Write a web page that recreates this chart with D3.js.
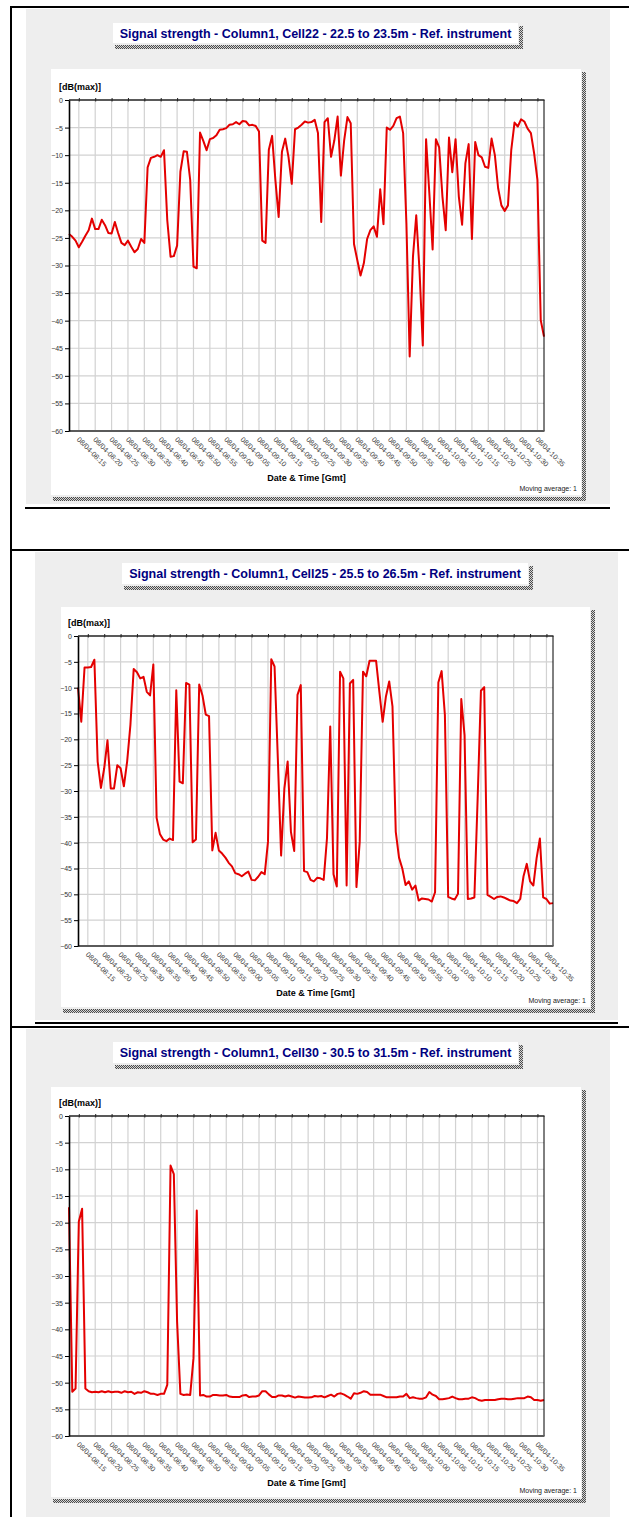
<!DOCTYPE html>
<html>
<head>
<meta charset="utf-8">
<script src="https://cdn.jsdelivr.net/npm/d3@7"></script>
<style>
  body { margin: 0; background: #fff; }
  svg { display: block; font-family: "Liberation Sans", Arial, sans-serif; }
</style>
</head>
<body>
<svg id="page" width="629" height="1517"></svg>
<script>
// ---- data (one sample per minute, 08:12 .. 10:37) ----
const startTime = new Date(2008, 3, 8, 8, 12);
const endTime = new Date(2008, 3, 8, 10, 37);
const yTicks = [0, -5, -10, -15, -20, -25, -30, -35, -40, -45, -50, -55, -60];

const titles = [
  'Signal strength - Column1, Cell22 - 22.5 to 23.5m - Ref. instrument',
  'Signal strength - Column1, Cell25 - 25.5 to 26.5m - Ref. instrument',
  'Signal strength - Column1, Cell30 - 30.5 to 31.5m - Ref. instrument'
];
const yLabel = '[dB(max)]';
const xLabel = 'Date & Time [Gmt]';
const note = 'Moving average: 1';

const cell22 = [
  -24.3, -24.8, -25.5, -26.7, -25.7, -24.6, -23.6, -21.5, -23.4, -23.4,
  -21.7, -22.7, -24.1, -24.2, -22.1, -24.1, -25.9, -26.3, -25.5, -26.6,
  -27.6, -27.0, -25.2, -25.9, -12.2, -10.5, -10.3, -10.0, -10.3, -9.1,
  -21.8, -28.4, -28.3, -26.4, -13.0, -9.3, -9.4, -14.5, -30.2, -30.5,
  -5.9, -7.4, -9.1, -7.1, -6.9, -6.4, -5.4, -5.3, -5.1, -4.5,
  -4.4, -4.0, -4.4, -3.8, -3.9, -4.6, -4.5, -4.7, -5.7, -25.5,
  -25.9, -9.0, -6.5, -14.5, -21.2, -9.4, -7.0, -10.3, -15.2, -5.3,
  -5.0, -4.5, -3.9, -4.1, -4.0, -3.6, -6.0, -22.1, -4.0, -3.3,
  -10.3, -7.3, -3.0, -13.7, -7.3, -3.1, -4.2, -26.1, -29.0, -31.8,
  -29.6, -25.2, -23.6, -22.9, -24.8, -16.2, -22.5, -5.0, -5.4, -4.7,
  -3.3, -3.0, -6.0, -22.4, -46.5, -28.4, -20.9, -30.9, -44.5, -7.1,
  -16.9, -27.1, -7.1, -8.6, -17.5, -23.6, -6.8, -13.1, -7.1, -17.5,
  -22.6, -11.5, -8.0, -25.2, -7.6, -10.0, -10.4, -12.1, -12.3, -7.0,
  -10.0, -16.0, -19.1, -20.1, -19.1, -9.1, -4.1, -4.8, -3.5, -3.9,
  -5.2, -6.0, -9.7, -14.5, -39.9, -42.9
];

const cell25 = [
  -10.0, -16.6, -6.1, -6.1, -6.0, -4.6, -24.3, -29.4, -25.6, -20.2,
  -29.5, -29.5, -25.0, -25.6, -29.1, -24.3, -17.2, -6.4, -7.0, -8.2,
  -7.9, -10.8, -11.5, -5.5, -35.2, -38.3, -39.4, -39.7, -39.2, -39.5,
  -10.5, -28.2, -28.5, -9.1, -9.4, -39.9, -39.4, -9.4, -11.5, -15.2,
  -15.5, -41.5, -38.1, -41.5, -42.1, -42.9, -43.9, -44.6, -45.9, -46.1,
  -46.5, -46.0, -45.6, -47.2, -47.3, -46.6, -45.7, -46.1, -39.8, -4.5,
  -5.9, -23.7, -42.5, -29.5, -24.3, -37.9, -41.6, -11.4, -9.5, -45.5,
  -45.7, -47.2, -47.5, -46.8, -46.9, -47.2, -39.2, -17.5, -46.1, -48.5,
  -6.9, -8.2, -48.3, -9.2, -8.5, -48.6, -39.8, -6.9, -7.8, -4.8,
  -4.8, -4.8, -10.8, -16.6, -11.7, -8.8, -13.6, -37.9, -42.9, -45.0,
  -48.2, -47.5, -49.1, -48.3, -51.2, -50.8, -50.9, -51.0, -51.4, -49.6,
  -9.0, -6.8, -15.3, -50.5, -50.8, -51.0, -49.9, -12.2, -19.2, -50.9,
  -50.8, -50.6, -31.4, -10.6, -9.9, -50.1, -50.5, -50.9, -50.5, -50.4,
  -50.6, -50.9, -51.2, -51.3, -51.7, -50.9, -46.5, -44.1, -47.5, -48.3,
  -43.0, -39.2, -50.6, -50.9, -51.8, -51.7
];

const cell30 = [
  -17.1, -51.7, -51.1, -19.8, -17.4, -51.1, -51.6, -51.8, -51.7, -51.8,
  -51.6, -51.8, -51.6, -51.8, -51.7, -51.7, -51.9, -51.6, -51.8, -51.7,
  -52.1, -51.8, -51.9, -51.6, -51.8, -52.1, -52.1, -52.3, -52.1, -52.1,
  -50.4, -9.3, -10.9, -38.6, -52.1, -52.3, -52.2, -52.3, -45.4, -17.7,
  -52.4, -52.3, -52.6, -52.6, -52.3, -52.3, -52.4, -52.4, -52.3, -52.6,
  -52.7, -52.7, -52.7, -52.4, -52.3, -52.7, -52.6, -52.6, -52.4, -51.6,
  -51.6, -52.2, -52.7, -52.7, -52.4, -52.4, -52.6, -52.4, -52.6, -52.8,
  -52.6, -52.7, -52.8, -52.8, -52.75, -52.5, -52.6, -52.5, -52.75, -52.5,
  -52.25, -52.6, -52.1, -52.0, -52.25, -52.6, -53.0, -52.0, -52.1, -51.9,
  -51.6, -51.75, -52.25, -52.25, -52.25, -52.25, -52.5, -52.75, -52.75, -52.75,
  -52.75, -52.6, -52.6, -52.1, -52.9, -52.75, -52.9, -53.0, -53.0, -52.75,
  -51.75, -52.25, -52.5, -53.1, -53.1, -53.0, -52.9, -52.6, -52.9, -53.1,
  -53.1, -53.0, -53.0, -52.75, -52.9, -53.25, -53.4, -53.25, -53.25, -53.25,
  -53.25, -53.1, -53.0, -53.0, -53.1, -53.1, -53.0, -52.9, -52.9, -52.9,
  -52.6, -52.75, -53.25, -53.25, -53.4, -53.25
];

const series = [cell22, cell25, cell30];

// ---- page layout (pixel boxes of each report block) ----
const layouts = [
  { gray: [26, 9, 584, 495], title: [113, 23, 405, 20], chart: [51, 69, 530, 426],
    plot: { l: 69, t: 100, r: 544, b: 431 }, sep: [25, 610, 508] },
  { gray: [35, 552, 583, 468], title: [122, 563, 406, 21], chart: [61, 607, 529, 400],
    plot: { l: 78, t: 636, r: 553, b: 946 }, sep: [35, 618, 1023] },
  { gray: [26, 1029, 584, 488], title: [113, 1042, 405, 21], chart: [51, 1087, 530, 410],
    plot: { l: 69, t: 1116, r: 544, b: 1436 }, sep: null }
];

const svg = d3.select('#page');
const defs = svg.append('defs');

// dithered shadow like the old report generator
const pat = defs.append('pattern')
  .attr('id', 'dither')
  .attr('width', 2).attr('height', 2)
  .attr('patternUnits', 'userSpaceOnUse');
pat.append('rect').attr('width', 2).attr('height', 2).attr('fill', '#d6d6d6');
pat.append('rect').attr('width', 1).attr('height', 1).attr('fill', '#4a4a4a');
pat.append('rect').attr('x', 1).attr('y', 1).attr('width', 1).attr('height', 1).attr('fill', '#4a4a4a');

const pageLine = (x1, y1, x2, y2, w) => svg.append('line')
  .attr('x1', x1).attr('y1', y1).attr('x2', x2).attr('y2', y2)
  .attr('stroke', '#000').attr('stroke-width', w);

function shadow(g, x0, y0, w, h) {
  // bottom + right strips
  g.append('rect').attr('x', x0 + 2).attr('y', y0 + h + 2).attr('width', w + 3).attr('height', 4)
    .attr('fill', 'url(#dither)');
  g.append('rect').attr('x', x0 + w + 1).attr('y', y0 + 3).attr('width', 4).attr('height', h + 3)
    .attr('fill', 'url(#dither)');
}

function drawPanel(L, values, title) {
  const g = svg.append('g');
  const p = L.plot;

  g.append('rect').attr('x', L.gray[0]).attr('y', L.gray[1])
    .attr('width', L.gray[2]).attr('height', L.gray[3]).attr('fill', '#eeeeee');

  // title box
  const [tx, ty, tw, th] = L.title;
  shadow(g, tx, ty, tw, th);
  g.append('rect').attr('x', tx).attr('y', ty).attr('width', tw).attr('height', th).attr('fill', '#fff');
  g.append('text')
    .attr('x', tx + tw / 2).attr('y', ty + th / 2 + 4.5)
    .attr('text-anchor', 'middle')
    .attr('font-size', 12.5).attr('font-weight', 'bold')
    .attr('fill', '#00007f')
    .text(title);

  // chart card
  const [cx, cy, cw, ch] = L.chart;
  shadow(g, cx, cy, cw, ch);
  g.append('rect').attr('x', cx).attr('y', cy).attr('width', cw).attr('height', ch).attr('fill', '#fff');

  const x = d3.scaleTime().domain([startTime, endTime]).range([p.l, p.r]);
  const y = d3.scaleLinear().domain([-60, 0]).range([p.b, p.t]);
  const xTicks = d3.timeMinute.every(5).range(new Date(2008, 3, 8, 8, 15), new Date(2008, 3, 8, 10, 36));

  // gridlines
  g.append('g').selectAll('line.h')
    .data(yTicks.filter(d => d > -60 && d < 0))
    .join('line')
    .attr('x1', p.l).attr('x2', p.r)
    .attr('y1', d => y(d)).attr('y2', d => y(d))
    .attr('stroke', '#d2d2d2').attr('stroke-width', 1.2);
  g.append('g').selectAll('line.v')
    .data(xTicks)
    .join('line')
    .attr('x1', d => x(d)).attr('x2', d => x(d))
    .attr('y1', p.t).attr('y2', p.b)
    .attr('stroke', '#d2d2d2').attr('stroke-width', 1.2);

  // signal line
  const pts = values.map((v, i) => [d3.timeMinute.offset(startTime, i), v]);
  g.append('path')
    .datum(pts)
    .attr('fill', 'none')
    .attr('stroke', '#e40000')
    .attr('stroke-width', 2)
    .attr('stroke-linejoin', 'round')
    .attr('d', d3.line().x(d => x(d[0])).y(d => y(d[1])));

  // frame: right thin black, bottom grey, top + left black
  g.append('line').attr('x1', p.r).attr('x2', p.r).attr('y1', p.t).attr('y2', p.b)
    .attr('stroke', '#000').attr('stroke-width', 1);
  g.append('line').attr('x1', p.l).attr('x2', p.r + 0.5).attr('y1', p.b).attr('y2', p.b)
    .attr('stroke', '#5a5a5a').attr('stroke-width', 2);
  g.append('line').attr('x1', p.l).attr('x2', p.r + 0.5).attr('y1', p.t).attr('y2', p.t)
    .attr('stroke', '#222').attr('stroke-width', 1.5);

  // top tick marks
  g.append('g')
    .attr('transform', `translate(0,${p.t + 1.5})`)
    .call(d3.axisTop(x).tickValues(xTicks).tickSize(3.5).tickSizeOuter(0).tickFormat(''))
    .call(a => a.select('.domain').remove())
    .call(a => a.selectAll('line').attr('stroke', '#222').attr('stroke-width', 1));

  // y axis
  g.append('g')
    .attr('transform', `translate(${p.l},0)`)
    .call(d3.axisLeft(y).tickValues(yTicks).tickSize(4).tickSizeOuter(0).tickPadding(2).tickFormat(d3.format('d')))
    .call(a => a.select('.domain').attr('stroke', '#000').attr('stroke-width', 1.6))
    .call(a => a.selectAll('line').attr('stroke', '#000'))
    .call(a => a.selectAll('text')
      .attr('font-family', '"Liberation Sans", Arial, sans-serif')
      .attr('font-size', 7).attr('fill', '#333').attr('dy', '0.35em'));

  // x labels, rotated
  g.append('g')
    .attr('transform', `translate(0,${p.b})`)
    .call(d3.axisBottom(x).tickValues(xTicks).tickSize(0).tickFormat(d3.timeFormat('%d/%m-%H:%M')))
    .call(a => a.select('.domain').remove())
    .call(a => a.selectAll('text')
      .attr('x', 0).attr('y', 0).attr('dy', 0)
      .attr('transform', 'translate(-3,9) rotate(45)')
      .attr('text-anchor', 'start')
      .attr('font-family', '"Liberation Sans", Arial, sans-serif')
      .attr('font-size', 7.2).attr('fill', '#444'));

  g.append('text')
    .attr('x', p.l - 10).attr('y', p.t - 10)
    .attr('font-size', 9).attr('font-weight', 'bold').attr('fill', '#000')
    .text(yLabel);

  g.append('text')
    .attr('x', (p.l + p.r) / 2).attr('y', p.b + 50)
    .attr('text-anchor', 'middle')
    .attr('font-size', 9).attr('font-weight', 'bold').attr('fill', '#000')
    .text(xLabel);

  g.append('text')
    .attr('x', cx + cw - 4).attr('y', cy + ch - 4)
    .attr('text-anchor', 'end')
    .attr('font-size', 7).attr('fill', '#222')
    .text(note);

  if (L.sep) pageLine(L.sep[0], L.sep[2], L.sep[1], L.sep[2], 2);
}

layouts.forEach((L, i) => drawPanel(L, series[i], titles[i]));

// page frame lines
pageLine(11, 7, 629, 7, 2);
pageLine(11, 6, 11, 1517, 2);
pageLine(11, 550, 629, 550, 2);
pageLine(11, 1027, 629, 1027, 2);
</script>
</body>
</html>
